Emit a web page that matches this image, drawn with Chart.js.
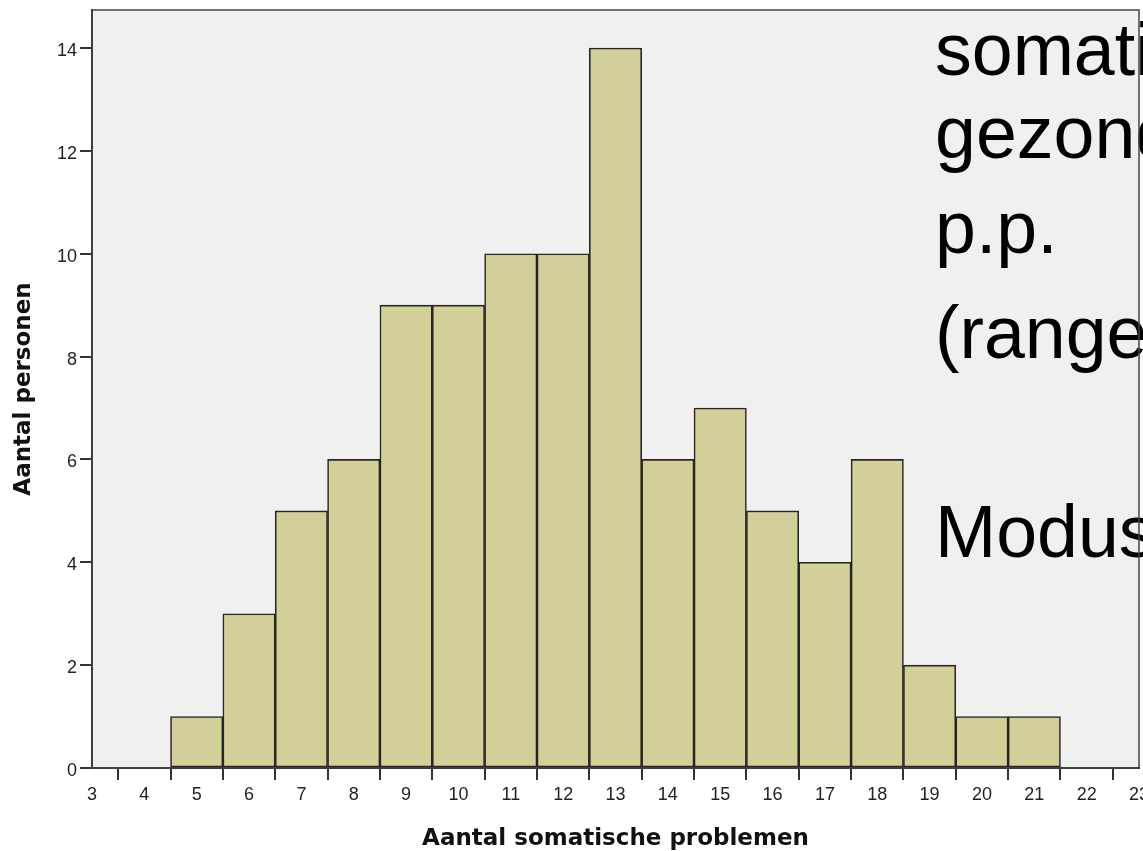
<!DOCTYPE html>
<html>
<head>
<meta charset="utf-8">
<script src="https://cdn.jsdelivr.net/npm/chart.js@4.4.0/dist/chart.umd.min.js"></script>
<style>
  html, body { margin: 0; padding: 0; background: #fff; }
  #wrap { width: 1143px; height: 851px; }
</style>
</head>
<body>
<div id="wrap"><canvas id="histChart"></canvas></div>
<script>
// aantal somatische problemen (bin midden) en aantal personen per bin
const problemen = [5, 6, 7, 8, 9, 10, 11, 12, 13, 14, 15, 16, 17, 18, 19, 20, 21];
const personen  = [1, 3, 5, 6, 9, 9, 10, 10, 14, 6, 7, 5, 4, 6, 2, 1, 1];

const xMin = 3, xMax = 23;
const yMax = 14.74, yStep = 2;

const xTitle = 'Aantal somatische problemen';
const yTitle = 'Aantal personen';

// tekst van de dia die over de grafiek heen staat
const overlayLines = ['somatische', 'gezonde', 'p.p.', '(range', 'Modus'];
const overlayBaselines = [75, 158, 253, 358, 557];

const points = problemen.map((p, i) => ({ x: p, y: personen[i] }));

const plotBackdrop = {
    id: 'plotBackdrop',
    beforeDraw(chart) {
        const { ctx, chartArea: a } = chart;
        ctx.save();
        ctx.fillStyle = '#f0f0f0';
        ctx.fillRect(a.left, a.top, a.width, a.height);
        ctx.restore();
    },
    afterDraw(chart) {
        const { ctx, chartArea: a } = chart;
        ctx.save();
        // dia tekst
        ctx.fillStyle = '#000';
        ctx.font = '73.5px "Liberation Sans", Arial, sans-serif';
        ctx.textAlign = 'left';
        ctx.textBaseline = 'alphabetic';
        overlayLines.forEach((t, i) => ctx.fillText(t, 935, overlayBaselines[i]));
        // kader om het plotgebied
        ctx.strokeStyle = '#444';
        ctx.lineWidth = 1.5;
        ctx.strokeRect(a.left, a.top, a.width, a.height);
        ctx.restore();
    }
};

const tickFont = { family: '"Liberation Sans", Arial, sans-serif', size: 18 };
const titleFont = { family: '"DejaVu Sans", Verdana, sans-serif', size: 23, weight: 'bold', lineHeight: 1 };

new Chart(document.querySelector('#histChart'), {
    type: 'bar',
    data: {
        datasets: [{
            data: points,
            backgroundColor: '#d3cf98',
            borderColor: '#262626',
            borderWidth: 1.6,
            borderSkipped: false,
            barPercentage: 1,
            categoryPercentage: 1
        }]
    },
    options: {
        responsive: true,
        maintainAspectRatio: false,
        animation: false,
        layout: { padding: { left: 0, top: 10, right: 4, bottom: 0 } },
        plugins: {
            legend: { display: false },
            tooltip: { enabled: false }
        },
        scales: {
            x: {
                type: 'linear',
                min: xMin,
                max: xMax,
                offset: false,
                grid: { drawOnChartArea: false, tickLength: 12, color: '#333', lineWidth: 2 },
                border: { color: '#333', width: 2 },
                ticks: { stepSize: 1, autoSkip: false, maxRotation: 0, padding: 4, color: '#222', font: tickFont },
                title: { display: true, text: xTitle, color: '#111', font: titleFont, padding: { top: 0, bottom: 0 } },
                afterFit: s => { s.height = 83; s.paddingLeft = 0; s.paddingRight = 0; }
            },
            y: {
                min: 0,
                max: yMax,
                grid: { drawOnChartArea: false, tickLength: 12, color: '#333', lineWidth: 2 },
                border: { color: '#333', width: 2 },
                ticks: { stepSize: yStep, includeBounds: false, padding: 3, labelOffset: 3, color: '#222', font: tickFont },
                title: { display: true, text: yTitle, color: '#111', font: titleFont, padding: { top: 13, bottom: 0 } },
                afterFit: s => { s.width = 92; s.paddingTop = 0; s.paddingBottom = 0; }
            }
        }
    },
    plugins: [plotBackdrop]
});
</script>
</body>
</html>
